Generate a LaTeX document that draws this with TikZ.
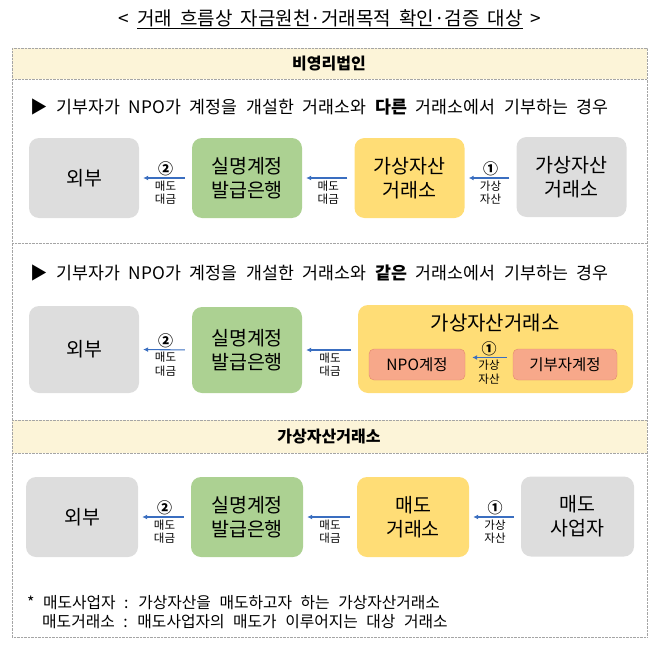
\documentclass[tikz,border=0pt]{standalone}
\usepackage{fontspec}
\setmainfont{Noto Sans CJK KR}
\usetikzlibrary{positioning,arrows.meta}
\definecolor{boxgray}{RGB}{221,221,221}
\definecolor{boxgreen}{RGB}{172,209,146}
\definecolor{boxyellow}{RGB}{255,221,118}
\definecolor{acct}{RGB}{247,168,138}
\definecolor{acctline}{RGB}{228,138,108}
\definecolor{bandfill}{RGB}{252,244,216}
\definecolor{flowblue}{RGB}{58,110,192}
\definecolor{framegray}{RGB}{165,165,165}
\newcommand{\widegap}[1]{\spaceskip=#1\relax}
\tikzset{
  party/.style    = {shape=rectangle, rounded corners=10pt, align=center,
                     minimum width=110pt, minimum height=80pt, inner sep=0pt,
                     font=\fontsize{19.5}{24}\selectfont, fill=boxgray},
  outside/.style  = {party},
  bank/.style     = {party, fill=boxgreen},
  exchange/.style = {party, fill=boxyellow},
  account/.style  = {shape=rectangle, rounded corners=5pt, draw=acctline,
                     fill=acct, minimum height=31pt, inner sep=0pt,
                     font=\fontsize{15.5}{18}\selectfont},
  flow/.style     = {draw=flowblue, line width=1.1pt,
                     -{Latex[length=5pt,width=5pt]},
                     shorten >=4pt, shorten <=7pt},
  stepno/.style   = {above, inner sep=1.5pt, font=\fontsize{15}{15}\selectfont\bfseries},
  what/.style     = {below, inner sep=2pt, align=center,
                     font=\fontsize{11.5}{13.5}\selectfont},
  rule/.style     = {draw=framegray, line width=0.6pt,
                     dash pattern=on 0.7pt off 0.7pt},
  heading/.style  = {font=\fontsize{16}{16}\selectfont\bfseries},
  caseline/.style = {anchor=west, inner sep=0pt,
                     font={\fontsize{17.3}{17.3}\selectfont\widegap{8.8pt}}},
  note/.style     = {anchor=west, inner sep=0pt,
                     font={\fontsize{15.8}{15.8}\selectfont\widegap{8.5pt}}}
}

\begin{document}
\begin{tikzpicture}
  [
    x = 1pt,
    y = -1pt
  ]
  \useasboundingbox (0,0) rectangle (658,650);
  \node [font={\fontsize{19}{19}\selectfont\widegap{8pt}}] (title) at (330,19)
    {< \underline{거래 흐름상 자금원천·거래목적 확인·검증 대상} >};

  \fill [bandfill] (12,48) rectangle (647,79);
  \fill [bandfill] (12,420) rectangle (647,453);
  \draw [rule] (12,48) rectangle (647,637);
  \draw [rule] (12,79) -- (647,79);
  \draw [rule] (12,243) -- (647,243);
  \draw [rule] (12,420) -- (647,420);
  \draw [rule] (12,453) -- (647,453);

  \node [heading] (npohead) at (329,64) {비영리법인};
  \node [heading] (vasphead) at (329,436.5) {가상자산거래소};

  \node [caseline] (case1) at (30,107)
    {▶ 기부자가 NPO가 계정을 개설한 거래소와 \textbf{다른} 거래소에서 기부하는 경우};
  \node [caseline] (case2) at (30,273)
    {▶ 기부자가 NPO가 계정을 개설한 거래소와 \textbf{같은} 거래소에서 기부하는 경우};

  \node [outside] (out1) at (84,178) {외부};
  \node [bank] (bank1) at (247,178) {실명계정\\발급은행};
  \node [exchange] (vasp1) at (409.5,178) {가상자산\\거래소};
  \node [outside] (donor1) at (571.5,177) {가상자산\\거래소};
  \draw [flow] (bank1.west) -- node [stepno] {②} node [what] {매도\\대금} (out1.east);
  \draw [flow] (vasp1.west) -- node [what] {매도\\대금} (bank1.east);
  \draw [flow] (donor1.west |- vasp1.east) -- node [stepno] {①} node [what] {가상\\자산} (vasp1.east);

  \node [outside, minimum height=87pt] (out2) at (84,349.5) {외부};
  \node [bank, minimum height=86pt] (bank2) at (247,350) {실명계정\\발급은행};
  \node [exchange, minimum width=275pt, minimum height=88pt] (vasp2) at (495.5,349) {};
  \node [font=\fontsize{20}{20}\selectfont] (vasp2name) at (495,323) {가상자산거래소};
  \node [account, minimum width=96pt] (npo) at (417,364.5) {NPO계정};
  \node [account, minimum width=104pt] (giver) at (565,364.5) {기부자계정};
  \draw [flow] (bank2.west) -- node [stepno] {②} node [what] {매도\\대금} (out2.east);
  \draw [flow] (vasp2.west |- bank2.east) -- node [what] {매도\\대금} (bank2.east);
  \draw [flow, shorten <=6pt, shorten >=7pt] ([yshift=7pt]giver.west) --
    node [stepno] {①} node [what] {가상\\자산} ([yshift=7pt]npo.east);

  \node [outside, minimum width=112pt] (out3) at (82,517) {외부};
  \node [bank, minimum width=112pt] (bank3) at (247,517) {실명계정\\발급은행};
  \node [exchange, minimum width=112pt] (vasp3) at (413,517) {매도\\거래소};
  \node [outside, minimum width=113pt] (seller) at (577.5,516.5) {매도\\사업자};
  \draw [flow] (bank3.west) -- node [stepno] {②} node [what] {매도\\대금} (out3.east);
  \draw [flow] (vasp3.west) -- node [what] {매도\\대금} (bank3.east);
  \draw [flow] (seller.west |- vasp3.east) -- node [stepno] {①} node [what] {가상\\자산} (vasp3.east);

  \node [note] (note1) at (27,603) {* 매도사업자 : 가상자산을 매도하고자 하는 가상자산거래소};
  \node [note] (note2) at (42,622) {매도거래소 : 매도사업자의 매도가 이루어지는 대상 거래소};
\end{tikzpicture}
\end{document}
